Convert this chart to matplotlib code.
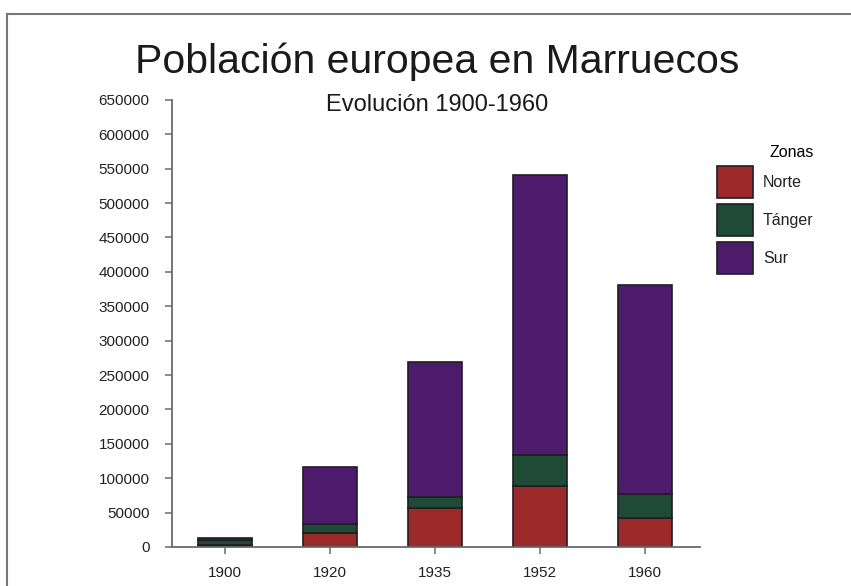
import matplotlib
matplotlib.use("Agg")
import matplotlib.pyplot as plt
from matplotlib.lines import Line2D
import numpy as np

plt.rcParams['font.family'] = ['Liberation Sans', 'DejaVu Sans']

years = ['1900', '1920', '1935', '1952', '1960']
zonas = ['Norte', 'Tánger', 'Sur']
norte = [3000, 21000, 57000, 89000, 42000]
tanger = [7000, 12000, 16000, 44000, 35000]
sur = [3000, 83000, 196000, 408000, 304000]
yticks = list(range(0, 650001, 50000))

colors = ['#9c2a2a', '#1f4a36', '#4e1a6c']

fig = plt.figure(figsize=(8.51, 5.86), dpi=100)
ax = fig.add_axes([0.202, 0.0666, 0.620, 0.763])

x = np.arange(len(years))
bottom = np.zeros(len(years))
for name, vals, c in zip(zonas, [norte, tanger, sur], colors):
    ax.bar(x, vals, width=0.51, bottom=bottom, color=c, edgecolor='#1e1e22',
           linewidth=1.2, label=name)
    bottom += np.array(vals)

ax.set_xlim(-0.505, 4.52)
ax.set_ylim(0, 650000)
ax.set_yticks(yticks)
ax.set_yticklabels([str(v) for v in yticks], fontsize=11)
ax.set_xticks(x)
ax.set_xticklabels(years, fontsize=11)

for s in ['top', 'right']:
    ax.spines[s].set_visible(False)
for s in ['left', 'bottom']:
    ax.spines[s].set_color('#6a6a6a')
    ax.spines[s].set_linewidth(1.3)
ax.tick_params(axis='y', length=5, width=1.1, color='#6a6a6a', pad=11, labelcolor='#222222')
ax.tick_params(axis='x', length=5, width=1.1, color='#6a6a6a', pad=9, labelcolor='#222222')

fig.text(0.514, 0.894, 'Población europea en Marruecos', ha='center', va='center',
         fontsize=29.5, color='#1a1a1a')
fig.text(0.514, 0.820, 'Evolución 1900-1960', ha='center', va='center',
         fontsize=17, color='#1a1a1a')

leg = fig.legend(loc='upper left', bbox_to_anchor=(0.8256, 0.7765), title='Zonas',
                 fontsize=11.5, title_fontsize=11.5, frameon=False, handlelength=2.25,
                 handleheight=2.7, labelspacing=0.375, handletextpad=0.63,
                 alignment='right')
for t in leg.get_texts():
    t.set_color('#222222')

# page border
fig.add_artist(Line2D([0.008, 1.0], [0.976, 0.976], transform=fig.transFigure,
                      color='#777777', linewidth=1.5))
fig.add_artist(Line2D([0.008, 0.008], [0.0, 0.976], transform=fig.transFigure,
                      color='#777777', linewidth=1.5))

fig.savefig('out.png', dpi=100)
